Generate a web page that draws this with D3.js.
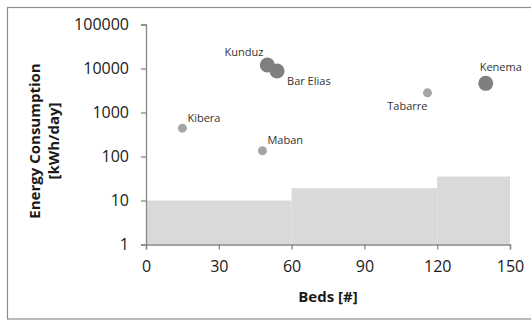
<!DOCTYPE html>
<html>
<head>
<meta charset="utf-8">
<script src="https://cdn.jsdelivr.net/npm/d3@7"></script>
<style>
  html, body { margin: 0; padding: 0; background: #fff; }
  svg { display: block; }
</style>
</head>
<body>
<svg id="chart" width="531" height="320"></svg>
<script>
// ---- data ----
const sites = ["Kibera", "Maban", "Kunduz", "Bar Elias", "Tabarre", "Kenema"];
const beds = [15, 48, 50, 54, 116, 140];
const energy = [440, 135, 12000, 8800, 2800, 4600];
const groups = ["small", "small", "large", "large", "small", "large"];

const bandStart = [0, 60, 120];
const bandEnd = [60, 120, 150];
const bandValue = [10, 19, 35];

const xTicks = [0, 30, 60, 90, 120, 150];
const yTicks = [1, 10, 100, 1000, 10000, 100000];

const xTitle = "Beds [#]";
const yTitle = ["Energy Consumption", "[kWh/day]"];

// ---- label placement (style, not data) ----
const labelPlace = {
  "Kibera":    { dx: 5,  dy: -6,  anchor: "start" },
  "Maban":     { dx: 5,  dy: -7,  anchor: "start" },
  "Kunduz":    { dx: -4, dy: -9,  anchor: "end" },
  "Bar Elias": { dx: 10, dy: 14,  anchor: "start" },
  "Tabarre":   { dx: 0,  dy: 17,  anchor: "end" },
  "Kenema":    { dx: 15, dy: -12, anchor: "middle" }
};

const svg = d3.select("#chart");
const font = "'Open Sans', 'Liberation Sans', sans-serif";

// outer frame
svg.append("rect")
  .attr("x", 7.5).attr("y", 7.5)
  .attr("width", 540).attr("height", 311.5)
  .attr("fill", "#fff").attr("stroke", "#8c8c8c").attr("stroke-width", 1.2);

const x = d3.scaleLinear().domain([0, 150]).range([146, 510]);
const y = d3.scaleLog().domain([1, 100000]).range([244.5, 24.5]);

// bands
svg.append("g").selectAll("rect")
  .data(bandStart.map((s, i) => ({ s, e: bandEnd[i], v: bandValue[i] })))
  .join("rect")
  .attr("x", d => x(d.s))
  .attr("width", d => x(d.e) - x(d.s))
  .attr("y", d => y(d.v))
  .attr("height", d => y(1) - y(d.v))
  .attr("fill", "#d9d9d9");

// axes
const xAxis = svg.append("g")
  .attr("transform", `translate(0,${y(1)})`)
  .call(d3.axisBottom(x).tickValues(xTicks).tickSize(5).tickPadding(11).tickFormat(d3.format("d")));
const yAxis = svg.append("g")
  .attr("transform", `translate(${x(0)},0)`)
  .call(d3.axisLeft(y).tickValues(yTicks).tickSize(5).tickPadding(12).tickFormat(d3.format("d")));

[xAxis, yAxis].forEach(g => {
  g.select(".domain").attr("stroke", "#868686").attr("stroke-width", 1.3);
  g.selectAll(".tick line").attr("stroke", "#868686").attr("stroke-width", 1.3);
  g.selectAll(".tick text")
    .attr("fill", "#1a1a1a")
    .style("font-family", font)
    .style("font-size", "16px");
});

// points
const pts = sites.map((s, i) => ({ s, b: beds[i], e: energy[i], g: groups[i] }));
const rScale = d3.scaleOrdinal().domain(["small", "large"]).range([4.5, 7.5]);
const cScale = d3.scaleOrdinal().domain(["small", "large"]).range(["#a5a5a5", "#7f7f7f"]);

svg.append("g").selectAll("circle")
  .data(pts)
  .join("circle")
  .attr("cx", d => x(d.b))
  .attr("cy", d => y(d.e))
  .attr("r", d => rScale(d.g))
  .attr("fill", d => cScale(d.g));

svg.append("g").selectAll("text")
  .data(pts)
  .join("text")
  .attr("x", d => x(d.b) + labelPlace[d.s].dx)
  .attr("y", d => y(d.e) + labelPlace[d.s].dy)
  .attr("text-anchor", d => labelPlace[d.s].anchor)
  .attr("fill", "#333")
  .style("font-family", font)
  .style("font-size", "11px")
  .text(d => d.s);

// axis titles
svg.append("text")
  .attr("x", (x(0) + x(150)) / 2)
  .attr("y", 302)
  .attr("text-anchor", "middle")
  .attr("fill", "#1a1a1a")
  .style("font-family", font)
  .style("font-size", "15px")
  .style("font-weight", "bold")
  .text(xTitle);

const yt = svg.append("text")
  .attr("transform", "translate(40,141) rotate(-90)")
  .attr("text-anchor", "middle")
  .attr("fill", "#1a1a1a")
  .style("font-family", font)
  .style("font-size", "15px")
  .style("font-weight", "bold");
yt.append("tspan").attr("x", 0).attr("y", 0).text(yTitle[0]);
yt.append("tspan").attr("x", 0).attr("y", 19).text(yTitle[1]);
</script>
</body>
</html>
